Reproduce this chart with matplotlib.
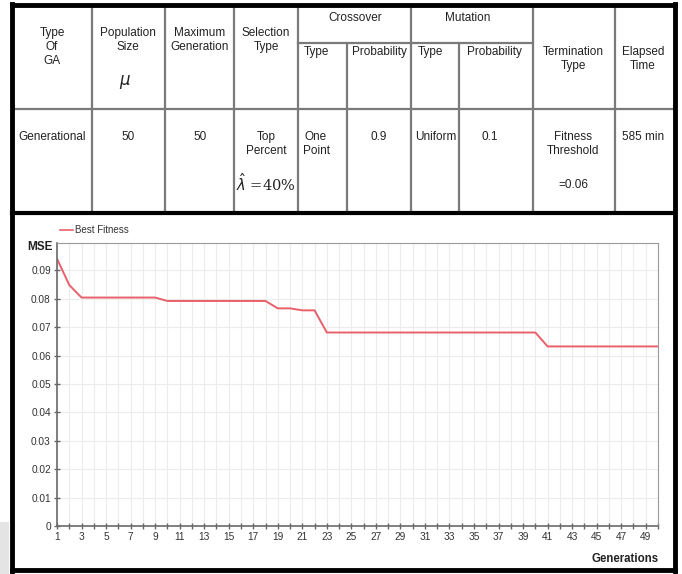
import numpy as np
import matplotlib
matplotlib.use("Agg")
import matplotlib.pyplot as plt
from matplotlib.lines import Line2D

plt.rcParams['font.family'] = ['Liberation Sans', 'DejaVu Sans']

# best fitness (MSE) per generation
generations = np.arange(1, 51)
best_fitness = [0.0941, 0.0848, 0.0804, 0.0804, 0.0804, 0.0804, 0.0804, 0.0804, 0.0804,
                0.0792, 0.0792, 0.0792, 0.0792, 0.0792, 0.0792, 0.0792, 0.0792, 0.0792,
                0.0766, 0.0766, 0.0759, 0.0759,
                0.0681, 0.0681, 0.0681, 0.0681, 0.0681, 0.0681, 0.0681, 0.0681, 0.0681,
                0.0681, 0.0681, 0.0681, 0.0681, 0.0681, 0.0681, 0.0681, 0.0681, 0.0681,
                0.0632, 0.0632, 0.0632, 0.0632, 0.0632, 0.0632, 0.0632, 0.0632, 0.0632, 0.0632]
y_ticks = [0, 0.01, 0.02, 0.03, 0.04, 0.05, 0.06, 0.07, 0.08, 0.09]
y_labels = ["0", "0.01", "0.02", "0.03", "0.04", "0.05", "0.06", "0.07", "0.08", "0.09"]
x_labels = [str(g) for g in range(1, 50, 2)]

# table content
header_cells = [("Type\nOf\nGA", 52), ("Population\nSize", 128), ("Maximum\nGeneration", 200),
                ("Selection\nType", 266)]
group_headers = [("Crossover", 355), ("Mutation", 468)]
sub_headers = [("Type", 316), ("Probability", 379), ("Type", 430), ("Probability", 494)]
right_headers = [("Termination\nType", 573), ("Elapsed\nTime", 643)]
row_values = [("Generational", 52), ("50", 128), ("50", 200), ("Top\nPercent", 266),
              ("One\nPoint", 316), ("0.9", 379), ("Uniform", 436), ("0.1", 490),
              ("Fitness\nThreshold", 573), ("585 min", 643)]

W, H = 682, 574
fig = plt.figure(figsize=(W / 100, H / 100), dpi=100)

# overlay in pixel coordinates for the table and frames
ov = fig.add_axes([0, 0, 1, 1])
ov.set_xlim(0, W)
ov.set_ylim(H, 0)
ov.axis("off")

# faint grey smear in the bottom-left corner of the scan
ov.add_patch(plt.Rectangle((0, 522), 9, 52, color="#e4e4e4", lw=0))

grey = "#7a7a7a"
col_x = [92, 165, 234, 298, 347, 411, 459, 533, 615]
for x in col_x:
    top = 43 if x in (347, 459) else 6
    ov.plot([x, x], [top, 212], color=grey, lw=1.6)
ov.plot([298, 533], [43, 43], color=grey, lw=1.6)
ov.plot([13, 675], [109, 109], color=grey, lw=1.6)

# thick black frame
ov.plot([12, 675], [5, 5], color="black", lw=3.5)
ov.plot([12, 675], [212.5, 212.5], color="black", lw=3)
ov.plot([12, 675], [570, 570], color="black", lw=3.5)
ov.plot([12, 12], [4, 572], color="black", lw=3.5)
ov.plot([675, 675], [4, 572], color="black", lw=3.5)

fs = 8.5
txt = dict(ha="center", va="top", fontsize=fs, color="#222222", linespacing=1.25)
for label, x in header_cells:
    ov.text(x, 27, label, **txt)
ov.text(125, 82, r"$\mu$", ha="center", va="center", fontsize=12, family="DejaVu Serif",
        color="#222222")
for label, x in group_headers:
    ov.text(x, 12, label, **txt)
for label, x in sub_headers + right_headers:
    ov.text(x, 46, label, **txt)
for label, x in row_values:
    ov.text(x, 131, label, **txt)
ov.text(266, 183, r"$\hat{\lambda}$ =40%", ha="center", va="center", fontsize=10.5,
        family="DejaVu Serif", color="#222222")
ov.text(573, 185, "=0.06", ha="center", va="center", fontsize=fs, color="#222222")

# chart
ax = fig.add_axes([57 / W, (H - 526) / H, (658 - 57) / W, (526 - 243) / H])
ax.plot(generations, best_fitness, color="#e8606a", lw=1.4)
ax.set_xlim(1, 50)
ax.set_ylim(0, 0.0996)
ax.set_yticks(y_ticks)
ax.set_yticklabels(y_labels)
ax.set_xticks(range(1, 50, 2))
ax.set_xticklabels(x_labels)
ax.set_xticks(range(1, 51), minor=True)
ax.grid(True, which="both", axis="x", color="#ececec", lw=0.8)
ax.grid(True, which="major", axis="y", color="#ececec", lw=0.8)
ax.set_axisbelow(True)
ax.tick_params(axis="both", which="both", direction="inout", length=4, width=1,
               color="#666666", labelsize=7.3, labelcolor="#333333", pad=2.5)
for side in ("top", "right"):
    ax.spines[side].set_color("#9a9a9a")
    ax.spines[side].set_linewidth(0.8)
for side in ("left", "bottom"):
    ax.spines[side].set_color("#6a6a6a")
    ax.spines[side].set_linewidth(1.2)

ov.text(40, 247, "MSE", ha="center", va="center", fontsize=8.5, fontweight="bold",
        color="#222222")
ov.text(659, 559, "Generations", ha="right", va="center", fontsize=8.3, fontweight="bold",
        color="#222222")

# legend
ov.add_line(Line2D([60, 73], [230, 230], color="#e8606a", lw=1.2))
ov.text(75, 230, "Best Fitness", ha="left", va="center", fontsize=7, color="#333333")

fig.savefig("out.png", dpi=100)
